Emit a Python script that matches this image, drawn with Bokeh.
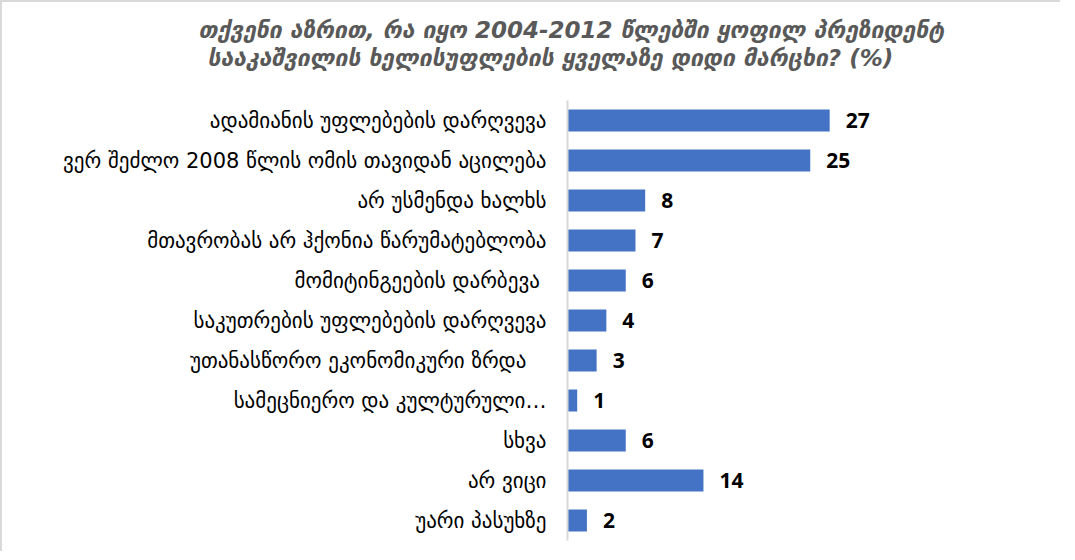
from bokeh.plotting import figure
from bokeh.models import ColumnDataSource, FactorRange, Range1d, Title
from bokeh.core.properties import value
from bokeh.embed import file_html
from bokeh.resources import INLINE

categories = [
    "ადამიანის უფლებების დარღვევა",
    "ვერ შეძლო 2008 წლის ომის თავიდან აცილება",
    "არ უსმენდა ხალხს",
    "მთავრობას არ ჰქონია წარუმატებლობა",
    "მომიტინგეების  დარბევა",
    "საკუთრების უფლებების დარღვევა",
    "უთანასწორო ეკონომიკური ზრდა   ",
    "სამეცნიერო და კულტურული…",
    "სხვა",
    "არ ვიცი",
    "უარი პასუხზე",
]
values = [27, 25, 8, 7, 6, 4, 3, 1, 6, 14, 2]
value_labels = [str(v) for v in values]

title_line1 = "თქვენი აზრით, რა იყო 2004-2012 წლებში ყოფილ პრეზიდენტ"
title_line2 = "სააკაშვილის ხელისუფლების ყველაზე დიდი მარცხი? (%)"

src = ColumnDataSource(dict(cat=categories, val=values, lab=value_labels))

p = figure(
    width=1060, height=551,
    y_range=FactorRange(factors=list(reversed(categories)), range_padding=0),
    x_range=Range1d(0, 44.8),
    output_backend="svg", toolbar_location=None,
    min_border_left=565, min_border_right=60, min_border_top=98, min_border_bottom=13,
)
p.styles = {"border-left": "2px solid #d9d9d9", "border-top": "2px solid #d9d9d9"}

p.hbar(y="cat", right="val", left=0, height=0.55, source=src,
       fill_color="#4472c4", line_color=None)

p.text(x="val", y="cat", text="lab", source=src, x_offset=16,
       text_align="left", text_baseline="middle",
       text_font=value("Open Sans"), text_font_style="bold", text_font_size="21px",
       text_color="#000000")

p.xaxis.visible = False
p.xgrid.visible = False
p.ygrid.visible = False
p.outline_line_color = None
p.yaxis.axis_line_color = "#d9d9d9"
p.yaxis.axis_line_width = 2
p.yaxis.major_tick_line_color = None
p.yaxis.minor_tick_line_color = None
p.yaxis.major_label_standoff = 15
p.yaxis.major_label_text_font = "DejaVu Sans"
p.yaxis.major_label_text_font_size = "21px"
p.yaxis.major_label_text_color = "#000000"

# spacer closest to the plot, then the second title line, then the first on top
p.add_layout(Title(text=" ", align="left", standoff=0,
                   text_font="DejaVu Sans", text_font_size="24px"), "above")
p.add_layout(Title(text=title_line2, align="left", offset=-360, standoff=0,
                   text_font="DejaVu Sans", text_font_style="bold italic",
                   text_font_size="23px", text_color="#595959"), "above")
p.add_layout(Title(text=title_line1, align="left", offset=-369, standoff=0,
                   text_font="DejaVu Sans", text_font_style="bold italic",
                   text_font_size="23px", text_color="#595959"), "above")

open("out.html", "w").write(file_html(p, INLINE))
